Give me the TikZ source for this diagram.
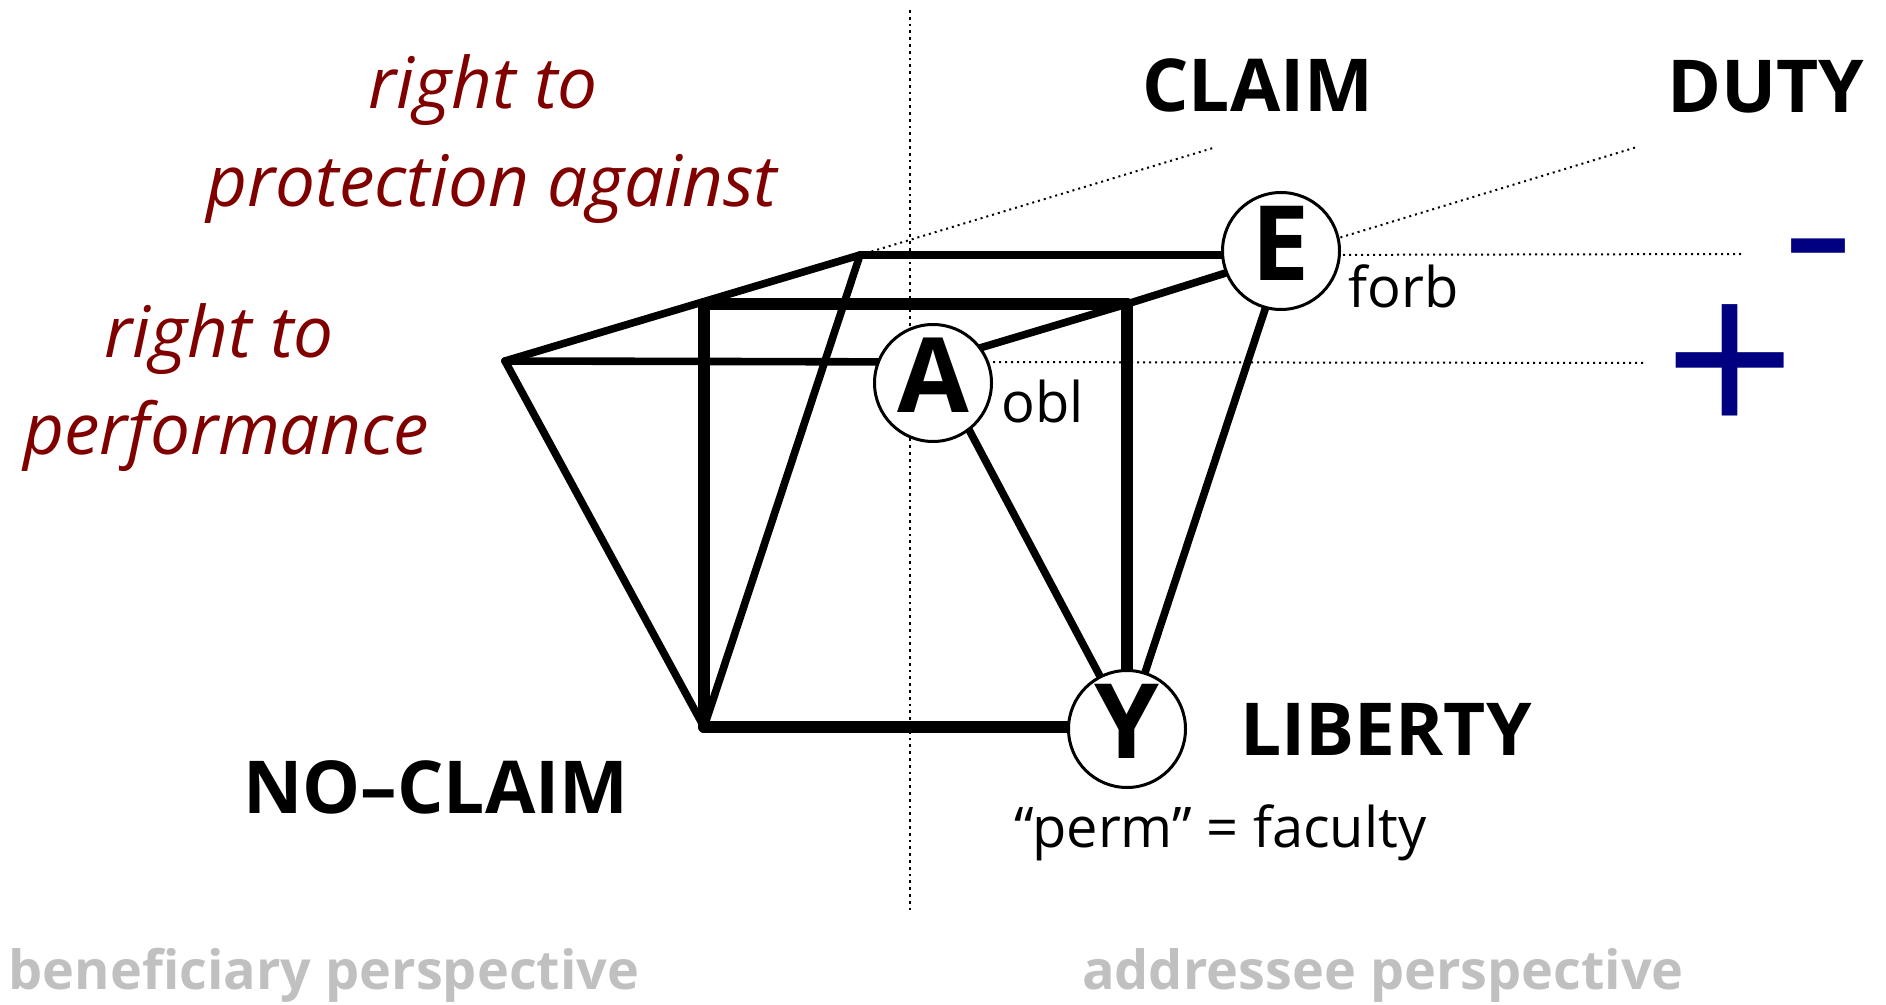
\documentclass[tikz,border=0pt]{standalone}
\usepackage{fontspec}
\setmainfont{Open Sans}
\definecolor{rightred}{HTML}{800000}
\definecolor{signblue}{HTML}{000080}
\definecolor{perspgray}{HTML}{C0C0C0}
\begin{document}
\begin{tikzpicture}[x=0.5pt, y=-0.5pt,
  link/.style={line width=3.8pt, line cap=round},
  heavylink/.style={line width=5.8pt, line cap=round},
  guide/.style={line width=1pt, dotted},
  vtx/.style={circle, draw, fill=white, line width=1.5pt, minimum size=58.5pt,
    inner sep=0pt, text depth=8pt, font=\fontsize{52}{52}\selectfont\bfseries},
  bigname/.style={font=\fontsize{36.5}{40}\selectfont\bfseries, inner sep=0pt,
    anchor=base},
  modal/.style={font=\fontsize{28}{30}\selectfont, inner sep=0pt,
    anchor=base west},
  rtext/.style={font=\fontsize{35.5}{40}\selectfont\itshape, text=rightred,
    inner sep=0pt, anchor=base},
  persp/.style={font=\fontsize{27}{30}\selectfont\bfseries, text=perspgray,
    inner sep=0pt, anchor=base},
  sign/.style={text=signblue, inner sep=0pt},
]

\useasboundingbox (0,0) rectangle (1886,1005);

% Corners of the figure
\coordinate (L) at (505,361);
\coordinate (P) at (860,255);
\coordinate (FL) at (704,304);
\coordinate (FR) at (1127,304);
\coordinate (a) at (933,362);
\coordinate (e) at (1283,255);
\coordinate (y) at (1127,727);
\coordinate (B) at (704,727);

% Free ends of the dotted guides
\coordinate (divtop) at (910,10);
\coordinate (divbot) at (910,912);
\coordinate (claimend) at (1213,148);
\coordinate (dutyend) at (1637,147);
\coordinate (forbend) at (1742,254);
\coordinate (oblend) at (1644,363);

% Dotted guides
\draw[line width=1.4pt, dotted] (divtop) -- (divbot);
\draw[guide] (P) -- (claimend);
\draw[guide] (e) -- (dutyend);
\draw[guide] (e) -- (forbend);
\draw[guide] (a) -- (oblend);

% Edges
\draw[link] (L) -- (P);
\draw[link] (P) -- (e);
\draw[link] (L) -- (a);
\draw[link] (a) -- (FR) -- (e);
\draw[link] (P) -- (B);
\draw[link] (L) -- (B);
\draw[link] (a) -- (y);
\draw[link] (e) -- (y);
\draw[heavylink] (FL) -- (FR);
\draw[heavylink] (FL) -- (B);
\draw[heavylink] (FR) -- (y);
\draw[heavylink] (B) -- (y);

% Vertices
\node[vtx] (A) at (933,383) {A};
\node[vtx] (E) at (1281,251) {E};
\node[vtx] (Y) at (1127,729) {Y};

% Corner names
\node[bigname] (claim) at (1258,112) {CLAIM};
\node[bigname] (duty) at (1766,113) {DUTY};
\node[bigname] (noclaim) at (436,813) {NO–CLAIM};
\node[bigname] (liberty) at (1386,755) {LIBERTY};

% Modal labels
\node[modal] (obl) at (1001,423) {obl};
\node[modal] (forb) at (1348,308) {forb};
\node[modal] (perm) at (1014,847) {“perm” = faculty};

% Rights
\node[rtext] (prot1) at (483,109) {right to};
\node[rtext] (prot2) at (492,207) {protection against};
\node[rtext] (perf1) at (219,358) {right to};
\node[rtext] (perf2) at (226,455) {performance};

% Signs
\node[sign, font=\fontsize{64}{64}\selectfont\bfseries] (minus) at (1818,260) {–};
\node[sign, font=\fontsize{115}{115}\selectfont] (plus) at (1730,373) {+};

% Perspectives
\node[persp] (benef) at (324,989) {beneficiary perspective};
\node[persp] (addr) at (1383,989) {addressee perspective};

\end{tikzpicture}
\end{document}
